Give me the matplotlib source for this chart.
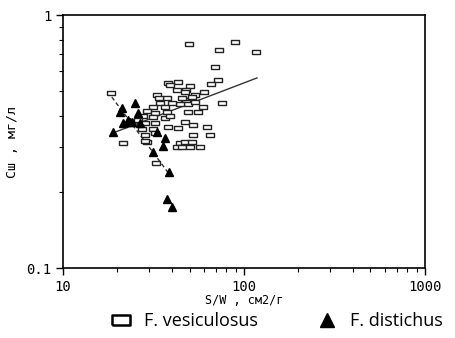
import matplotlib.pyplot as plt
from matplotlib.lines import Line2D
import numpy as np

# F. vesiculosus (open rectangles)
ves_x = [18.4, 49.6, 89.1, 72.8, 116, 69.2, 71.8, 65.7, 38.0, 43.2, 50.3, 60.1,
         75.6, 33.0, 37.6, 42.7, 47.8, 39.0, 34.4, 31.4, 36.6, 29.1, 32.2, 37.6,
         27.7, 31.4, 36.6, 28.4, 32.2, 38.0, 43.2, 27.3, 31.4, 28.4, 32.2, 21.4,
         29.1, 28.4, 32.6, 44.3, 42.7, 47.2, 47.2, 47.2, 53.6, 59.3, 55.7, 49.1,
         47.2, 52.2, 62.5, 64.9, 52.2, 51.6, 45.4, 50.3, 57.1, 50.3, 47.8, 51.6,
         49.1, 45.4, 53.6, 44.3, 26.0, 40.0, 39.0, 34.0]
ves_y = [0.492, 0.768, 0.782, 0.727, 0.714, 0.623, 0.554, 0.533, 0.539, 0.543, 0.524, 0.496,
         0.449, 0.483, 0.470, 0.505, 0.505, 0.529, 0.449, 0.433, 0.433, 0.418, 0.410, 0.414,
         0.399, 0.395, 0.392, 0.374, 0.374, 0.361, 0.357, 0.354, 0.354, 0.336, 0.342, 0.312,
         0.315, 0.318, 0.260, 0.312, 0.301, 0.315, 0.461, 0.496, 0.483, 0.433, 0.414, 0.414,
         0.378, 0.367, 0.361, 0.336, 0.336, 0.315, 0.301, 0.301, 0.301, 0.461, 0.453, 0.474,
         0.443, 0.470, 0.453, 0.443, 0.385, 0.450, 0.400, 0.470]

# F. distichus (filled triangles)
dis_x = [25.0, 20.7, 26.0, 21.2, 21.4, 23.4, 26.6, 24.1, 22.9, 18.9, 33.0, 36.6,
         35.7, 31.4, 38.5, 37.6, 40.0]
dis_y = [0.449, 0.414, 0.410, 0.429, 0.374, 0.378, 0.374, 0.378, 0.385, 0.345, 0.345, 0.327,
         0.303, 0.287, 0.239, 0.187, 0.174]

# regression lines (end points)
ves_fit_x = [18.9, 118]
ves_fit_y = [0.342, 0.564]
dis_fit_x = [18.6, 39.0]
dis_fit_y = [0.474, 0.233]

rect = [(-1, -0.55), (1, -0.55), (1, 0.55), (-1, 0.55), (-1, -0.55)]

fig = plt.figure(figsize=(4.55, 3.38), dpi=100)
ax = fig.add_axes([0.1385, 0.207, 0.7955, 0.7486])

ax.plot(ves_fit_x, ves_fit_y, color='#333333', lw=1.0)
ax.plot(dis_fit_x, dis_fit_y, color='#333333', lw=1.0, ls=(0, (3, 2)))
ax.plot(ves_x, ves_y, ls='none', marker=rect, ms=6, mfc='white', mec='#222222', mew=1.0)
ax.plot(dis_x, dis_y, ls='none', marker='^', ms=5.8, mfc='black', mec='black')

ax.set_xscale('log')
ax.set_yscale('log')
ax.set_xlim(10, 1000)
ax.set_ylim(0.1, 1)
ax.set_xticks([10, 100, 1000])
ax.set_xticklabels(['10', '100', '1000'])
ax.set_yticks([0.1, 1])
ax.set_yticklabels(['0.1', '1'])
ax.tick_params(which='major', direction='out', length=5, width=1, labelsize=10)
ax.tick_params(which='minor', direction='out', length=3, width=0.8)
ax.tick_params(axis='y', which='minor', labelleft=False)
ax.tick_params(axis='x', which='minor', labelbottom=False)
for lab in ax.get_xticklabels() + ax.get_yticklabels():
    lab.set_family('DejaVu Sans Mono')
for sp in ax.spines.values():
    sp.set_linewidth(1.2)

ax.set_xlabel('S/W , см2/г', family='DejaVu Sans Mono', fontsize=8.5, labelpad=0)
ax.set_ylabel('Cш , мг/л', family='DejaVu Sans Mono', fontsize=9.5, labelpad=5)

handles = [
    Line2D([], [], ls='none', marker=rect, ms=13, mfc='white', mec='black', mew=1.8),
    Line2D([], [], ls='none', marker='^', ms=10, mfc='black', mec='black'),
]
fig.legend(handles, ['F. vesiculosus', 'F. distichus'], loc='lower center',
           bbox_to_anchor=(0.6, -0.025), ncol=2, frameon=False,
           handletextpad=0.3, columnspacing=2.8, prop={'family': 'Open Sans', 'size': 13})

fig.savefig('out.png', dpi=100)
